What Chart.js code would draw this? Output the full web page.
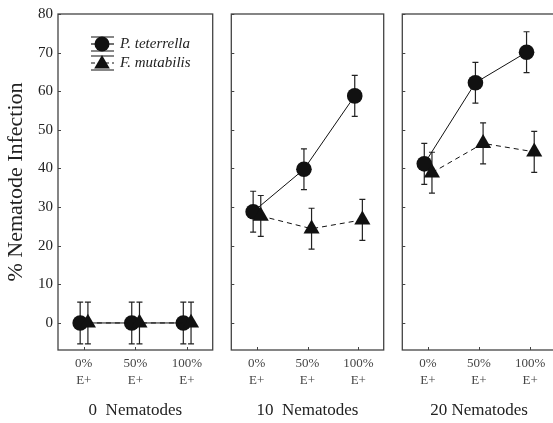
<!DOCTYPE html>
<html>
<head>
<meta charset="utf-8">
<script src="https://cdn.jsdelivr.net/npm/chart.js"></script>
<style>
  body { margin: 0; background: #fff; }
  #wrap { position: relative; width: 553px; height: 423px; overflow: hidden; background: #fff; }
  canvas { position: absolute; top: 0; }
</style>
</head>
<body>
<div id="wrap">
  <canvas id="c0" width="222" height="423" style="left:0px"></canvas>
  <canvas id="c1" width="171" height="423" style="left:222px"></canvas>
  <canvas id="c2" width="172" height="423" style="left:393px"></canvas>
</div>
<script>
// categories on each panel
const categories = ["0%", "50%", "100%"];
const categorySub = ["E+", "E+", "E+"];
const panelTitles = ["0  Nematodes", "10  Nematodes", "20 Nematodes"];
const seriesNames = ["P. teterrella", "F. mutabilis"];
const yTicks = [0, 10, 20, 30, 40, 50, 60, 70, 80];

// P. teterrella (circles), mean and error per panel
const teterrella0 = [0, 0, 0];
const teterrella10 = [28.8, 39.8, 58.8];
const teterrella20 = [41.2, 62.2, 70.1];
const teterrellaErr0 = [5.4, 5.4, 5.4];
const teterrellaErr10 = [5.3, 5.3, 5.3];
const teterrellaErr20 = [5.3, 5.3, 5.3];

// F. mutabilis (triangles)
const mutabilis0 = [0, 0, 0];
const mutabilis10 = [27.7, 24.4, 26.7];
const mutabilis20 = [38.9, 46.5, 44.3];
const mutabilisErr0 = [5.4, 5.4, 5.4];
const mutabilisErr10 = [5.3, 5.3, 5.3];
const mutabilisErr20 = [5.3, 5.3, 5.3];

const panels = [
    { p: teterrella0, pe: teterrellaErr0, f: mutabilis0, fe: mutabilisErr0 },
    { p: teterrella10, pe: teterrellaErr10, f: mutabilis10, fe: mutabilisErr10 },
    { p: teterrella20, pe: teterrellaErr20, f: mutabilis20, fe: mutabilisErr20 }
];

Chart.defaults.font.family = "'Liberation Serif', 'Times New Roman', serif";
Chart.defaults.color = "#222";

const INK = "#111";
const FRAME = "#444";

// error bars drawn behind markers
const errorBars = {
    id: "errorBars",
    beforeDatasetsDraw(chart) {
        const ctx = chart.ctx, xs = chart.scales.x, ys = chart.scales.y;
        ctx.save();
        ctx.strokeStyle = "#222";
        ctx.lineWidth = 1.2;
        chart.data.datasets.forEach((ds) => {
            ds.data.forEach((pt, i) => {
                const x = xs.getPixelForValue(pt.x);
                const top = ys.getPixelForValue(pt.y + ds.errors[i]);
                const bot = ys.getPixelForValue(pt.y - ds.errors[i]);
                ctx.beginPath();
                ctx.moveTo(x, top); ctx.lineTo(x, bot);
                ctx.moveTo(x - 3, top); ctx.lineTo(x + 3, top);
                ctx.moveTo(x - 3, bot); ctx.lineTo(x + 3, bot);
                ctx.stroke();
            });
        });
        ctx.restore();
    }
};

// box round the panel, with short inward ticks on the left and bottom
const frame = {
    id: "frame",
    afterDraw(chart) {
        const ctx = chart.ctx, a = chart.chartArea;
        const xs = chart.scales.x, ys = chart.scales.y;
        ctx.save();
        ctx.strokeStyle = FRAME;
        ctx.lineWidth = 1.3;
        ctx.strokeRect(a.left, a.top, a.right - a.left, a.bottom - a.top);
        ctx.lineWidth = 1;
        ctx.beginPath();
        yTicks.forEach((v) => {
            const y = Math.round(ys.getPixelForValue(v)) + 0.5;
            ctx.moveTo(a.left, y); ctx.lineTo(a.left + 3, y);
        });
        categories.forEach((c, i) => {
            const x = Math.round(xs.getPixelForValue(i)) + 0.5;
            ctx.moveTo(x, a.bottom); ctx.lineTo(x, a.bottom - 3);
        });
        ctx.stroke();
        ctx.restore();
    }
};

// legend with the error-bar style symbols, first panel only
const legendBox = {
    id: "legendBox",
    afterDraw(chart) {
        const ctx = chart.ctx;
        const rows = [
            { y: 44, style: "circle", dash: [] },
            { y: 63, style: "triangle", dash: [4, 3] }
        ];
        ctx.save();
        rows.forEach((r, i) => {
            const cx = 102;
            ctx.strokeStyle = INK;
            ctx.lineWidth = 1.2;
            ctx.beginPath();
            ctx.moveTo(91, r.y - 7); ctx.lineTo(114, r.y - 7);
            ctx.moveTo(91, r.y + 7); ctx.lineTo(114, r.y + 7);
            ctx.stroke();
            ctx.setLineDash(r.dash);
            ctx.beginPath();
            ctx.moveTo(91, r.y); ctx.lineTo(114, r.y);
            ctx.stroke();
            ctx.setLineDash([]);
            ctx.fillStyle = INK;
            Chart.helpers.drawPoint(ctx, {
                pointStyle: r.style,
                radius: r.style === "circle" ? 7.5 : 9,
                borderWidth: 0
            }, cx, r.style === "circle" ? r.y : r.y + 1);
            ctx.fillStyle = "#222";
            ctx.font = "italic 15px 'Liberation Serif'";
            ctx.textBaseline = "middle";
            ctx.fillText(seriesNames[i], 120, r.y);
        });
        ctx.restore();
    }
};

function makePanel(id, idx, pad, first) {
    const d = panels[idx];
    const datasets = [
        {
            label: seriesNames[0],
            data: d.p.map((v, i) => ({ x: i - 0.07, y: v })),
            errors: d.pe,
            borderColor: INK,
            borderWidth: 1,
            pointStyle: "circle",
            pointRadius: 7.8,
            pointBackgroundColor: INK,
            pointBorderWidth: 0,
            order: 1
        },
        {
            label: seriesNames[1],
            data: d.f.map((v, i) => ({ x: i + 0.08, y: v })),
            errors: d.fe,
            borderColor: INK,
            borderWidth: 1,
            borderDash: [5, 4],
            pointStyle: "triangle",
            pointRadius: 9.3,
            pointBackgroundColor: INK,
            pointBorderWidth: 0,
            order: 0
        }
    ];

    new Chart(document.getElementById(id), {
        type: "line",
        data: { datasets },
        plugins: first ? [errorBars, frame, legendBox] : [errorBars, frame],
        options: {
            responsive: false,
            animation: false,
            devicePixelRatio: 1,
            layout: { padding: pad },
            plugins: { legend: { display: false }, tooltip: { enabled: false } },
            elements: { line: { tension: 0 } },
            scales: {
                x: {
                    type: "linear",
                    min: -0.5,
                    max: 2.5,
                    afterBuildTicks: (s) => { s.ticks = categories.map((c, i) => ({ value: i })); },
                    afterFit: (s) => { s.height = 73; },
                    grid: { display: false, drawTicks: false },
                    border: { display: false },
                    ticks: {
                        autoSkip: false,
                        maxRotation: 0,
                        padding: 5,
                        color: "#444",
                        font: { size: 13, lineHeight: 1.3 },
                        callback: (v) => [categories[v], categorySub[v]]
                    },
                    title: {
                        display: true,
                        text: panelTitles[idx],
                        color: "#222",
                        font: { size: 17, lineHeight: 1 },
                        padding: { top: 0, bottom: 4 }
                    }
                },
                y: {
                    display: first,
                    min: -7,
                    max: 80,
                    afterBuildTicks: (s) => { s.ticks = yTicks.map((v) => ({ value: v })); },
                    afterFit: (s) => { s.width = first ? 58 : 0; },
                    grid: { display: false, drawTicks: false },
                    border: { display: false },
                    ticks: { padding: 5, color: "#222", font: { size: 15 } },
                    title: {
                        display: true,
                        text: "% Nematode Infection",
                        color: "#222",
                        font: { size: 22, lineHeight: 1 },
                        padding: { top: 5, bottom: 0 }
                    }
                }
            }
        }
    });
}

makePanel("c0", 0, { top: 14, right: 7, left: 0, bottom: 0 }, true);
makePanel("c1", 1, { top: 14, right: 7, left: 6, bottom: 0 }, false);
makePanel("c2", 2, { top: 14, right: 7, left: 7, bottom: 0 }, false);
</script>
</body>
</html>
